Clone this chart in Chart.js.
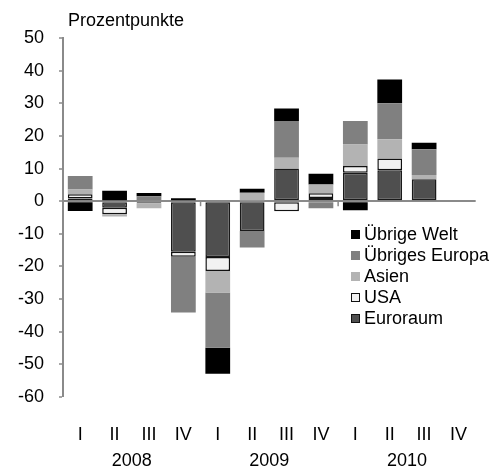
<!DOCTYPE html>
<html><head><meta charset="utf-8">
<script src="https://cdn.jsdelivr.net/npm/chart.js@4"></script>
<style>html,body{margin:0;padding:0;background:#fff}#wrap{position:relative;width:494px;height:466px}</style>
</head><body><div id="wrap"><canvas id="c" width="494" height="466"></canvas></div>
<script>
const quarters = ['I','II','III','IV','I','II','III','IV','I','II','III','IV'];
const years = ['2008','2009','2010'];
const yTicks = [50,40,30,20,10,0,-10,-20,-30,-40,-50,-60];
const euroraum = [0.8, -2.0, -0.6, -15.5, -17.1, -9.1, 10.0, 1.0, 8.7, 9.5, 6.7, null];
const usa      = [1.3, -2.0, null, -1.5, -4.3, null, -3.1, 1.4, 2.1, 3.6, null, null];
const asien    = [1.5, -0.7, -1.6, null, -6.6, 2.6, 3.3, 2.7, 6.6, 5.9, 1.3, null];
const europa   = [4.1, null, 1.5, -17.1, -16.9, -5.1, 11.3, -2.2, 7.2, 11.0, 7.9, null];
const welt     = [-3.0, 3.2, 1.0, 0.9, -8.0, 1.2, 3.8, 3.3, -2.8, 7.3, 2.0, null];
const seriesNames = ['Euroraum','USA','Asien','Übriges Europa','Übrige Welt'];
const axisTitle = 'Prozentpunkte';

const FONT = '"Liberation Sans", Arial, sans-serif';
const FS = 18;
const GRAY = '#8a8a8a';

const mk = (label, data, bg, border, bw) => ({
  label, data, backgroundColor: bg, borderColor: border, borderWidth: bw,
  borderSkipped: false, xAxisID: 'x', yAxisID: 'y',
  categoryPercentage: 1.0, barPercentage: 0.72
});

const datasets = [
  mk(seriesNames[0], euroraum, '#4f4f4f', '#1a1a1a', 1.5),
  mk(seriesNames[1], usa, '#f2f2f2', '#111111', 1.5),
  mk(seriesNames[2], asien, '#b3b3b3', '#b3b3b3', 0),
  mk(seriesNames[3], europa, '#808080', '#808080', 0),
  mk(seriesNames[4], welt, '#000000', '#000000', 0)
];

const extras = {
  id: 'extras',
  afterDatasetsDraw(chart) {
    const ctx = chart.ctx, x = chart.scales.x, y = chart.scales.y;
    const y0 = y.getPixelForValue(0);
    ctx.save();
    ctx.strokeStyle = GRAY; ctx.lineWidth = 1.5;
    [3, 7].forEach(i => {
      const px = (x.getPixelForValue(i) + x.getPixelForValue(i + 1)) / 2;
      ctx.beginPath(); ctx.moveTo(px, y0); ctx.lineTo(px, y0 + 5); ctx.stroke();
    });
    ctx.fillStyle = '#000';
    ctx.font = FS + 'px ' + FONT;
    ctx.textAlign = 'left'; ctx.textBaseline = 'middle';
    ctx.fillText(axisTitle, 68, 21);
    const items = chart.data.datasets.slice().reverse();
    items.forEach((ds, k) => {
      const cy = 234.5 + k * 21;
      ctx.fillStyle = ds.backgroundColor;
      ctx.fillRect(351, cy - 4.5, 9, 9);
      if (ds.borderWidth > 0) {
        ctx.strokeStyle = '#111'; ctx.lineWidth = 1;
        ctx.strokeRect(351.5, cy - 4, 8, 8);
      }
      ctx.fillStyle = '#000';
      ctx.fillText(ds.label, 364, cy + 1);
    });
    ctx.restore();
  }
};

new Chart(document.getElementById('c'), {
  type: 'bar',
  data: { labels: quarters, datasets },
  options: {
    responsive: false, animation: false, devicePixelRatio: 1,
    layout: { padding: { top: 38, right: 0, left: 0, bottom: 0 } },
    plugins: { legend: { display: false }, tooltip: { enabled: false }, title: { display: false } },
    scales: {
      x: {
        stacked: true, offset: true, weight: 0,
        grid: { display: false, drawTicks: false }, border: { display: false },
        ticks: { color: '#000', font: { family: FONT, size: FS }, padding: 27, maxRotation: 0, autoSkip: false },
        afterFit: s => { s.height = 51; }
      },
      x2: {
        type: 'category', labels: years, position: 'bottom', offset: true, weight: 1,
        grid: { display: false, drawTicks: false }, border: { display: false },
        ticks: { color: '#000', font: { family: FONT, size: FS }, padding: 2, maxRotation: 0 },
        afterFit: s => { s.height = 18; }
      },
      y: {
        stacked: true, min: -60, max: 50, z: 1,
        afterBuildTicks: s => { s.ticks = yTicks.map(v => ({ value: v })); },
        grid: {
          drawOnChartArea: true, drawTicks: true, tickLength: 4, tickColor: GRAY, tickWidth: 1.5,
          color: c => (c.tick && c.tick.value === 0) ? GRAY : 'rgba(0,0,0,0)',
          lineWidth: c => (c.tick && c.tick.value === 0) ? 2 : 0
        },
        border: { display: true, color: GRAY, width: 2 },
        ticks: { color: '#000', font: { family: FONT, size: FS }, padding: 15 },
        afterFit: s => { s.width = 63; }
      }
    }
  },
  plugins: [extras]
});
</script></body></html>
